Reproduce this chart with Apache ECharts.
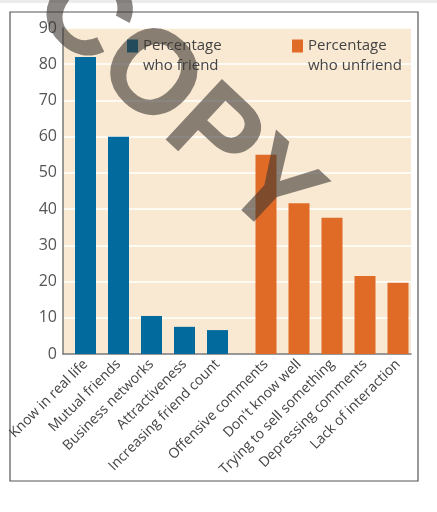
<!DOCTYPE html>
<html>
<head>
<meta charset="utf-8">
<script src="https://cdn.jsdelivr.net/npm/echarts@6/dist/echarts.min.js"></script>
<style>
  html, body { margin: 0; padding: 0; background: #fff; }
  #chart { width: 437px; height: 512px; }
</style>
</head>
<body>
<div id="chart"></div>
<script>
const friendReasons = ['Know in real life', 'Mutual friends', 'Business networks', 'Attractiveness', 'Increasing friend count'];
const friendValues = [82, 60, 10.5, 7.5, 6.6];
const unfriendReasons = ['Offensive comments', "Don't know well", 'Trying to sell something', 'Depressing comments', 'Lack of interaction'];
const unfriendValues = [55, 41.6, 37.6, 21.5, 19.7];
const yTicks = [0, 10, 20, 30, 40, 50, 60, 70, 80, 90];

const BLUE = '#026a9c', ORANGE = '#e06b27', BEIGE = '#f9e9d3';
const FONT = '"Open Sans", sans-serif';

let myChart;
document.addEventListener('DOMContentLoaded', () => {
    myChart = echarts.init(document.getElementById('chart'));
    const top = 28, bottom = 158;
    const legendText = { fontSize: 15, fontFamily: FONT, color: '#444', lineHeight: 20 };
    // leading blank line keeps the square level with the first line of text
    const twoLines = n => '\n' + n.replace(' who', '\nwho');
    myChart.setOption({
        animation: false,
        grid: [
            { left: 63, right: 26, top, bottom, show: true, backgroundColor: BEIGE, borderWidth: 0 },
            { left: 69, width: 165, top, bottom },
            { left: 249.5, width: 165, top, bottom }
        ],
        legend: [
            { left: 127, top: 16, padding: 0, itemWidth: 11, itemHeight: 13, icon: 'rect',
              data: ['Percentage who friend'], textStyle: legendText, formatter: twoLines },
            { left: 292, top: 16, padding: 0, itemWidth: 11, itemHeight: 13, icon: 'rect',
              data: ['Percentage who unfriend'], textStyle: legendText, formatter: twoLines }
        ],
        xAxis: [
            { type: 'value', gridIndex: 0, min: 0, max: 1,
              axisLine: { show: true, lineStyle: { color: '#777', width: 1.5 } },
              axisTick: { show: false }, axisLabel: { show: false }, splitLine: { show: false } },
            { type: 'category', gridIndex: 1, data: friendReasons,
              axisLine: { show: false }, axisTick: { show: false },
              axisLabel: { rotate: 45, margin: 8, fontSize: 14, fontFamily: FONT, color: '#444', interval: 0 } },
            { type: 'category', gridIndex: 2, data: unfriendReasons,
              axisLine: { show: false }, axisTick: { show: false },
              axisLabel: { rotate: 45, margin: 8, fontSize: 14, fontFamily: FONT, color: '#444', interval: 0 } }
        ],
        yAxis: [
            { type: 'value', gridIndex: 0, min: yTicks[0], max: yTicks[yTicks.length - 1], interval: 10,
              axisLine: { show: true, lineStyle: { color: '#777', width: 1.5 } },
              axisTick: { show: false },
              axisLabel: { fontSize: 16, fontFamily: FONT, color: '#555', margin: 6 },
              splitLine: { lineStyle: { color: '#fff', width: 1.5 } } },
            { type: 'value', gridIndex: 1, min: 0, max: 90, show: false },
            { type: 'value', gridIndex: 2, min: 0, max: 90, show: false }
        ],
        series: [
            { name: 'Percentage who friend', type: 'bar', xAxisIndex: 1, yAxisIndex: 1,
              data: friendValues, barWidth: 21, itemStyle: { color: BLUE } },
            { name: 'Percentage who unfriend', type: 'bar', xAxisIndex: 2, yAxisIndex: 2,
              data: unfriendValues, barWidth: 21, itemStyle: { color: ORANGE } }
        ],
        graphic: [
            { type: 'rect', shape: { x: 0, y: 0, width: 437, height: 3 }, style: { fill: '#ececec' }, z: -10 },
            { type: 'rect', shape: { x: 10, y: 12, width: 408, height: 469 },
              style: { fill: 'none', stroke: '#555', lineWidth: 1.2 }, z: -10 },
            // watermark
            { type: 'text', x: 175, y: 103, rotation: -43 * Math.PI / 180, z: 100,
              style: { text: 'COPY', font: 'bold 120px "Liberation Sans", sans-serif',
                       fill: 'rgba(60,55,50,0.6)', align: 'center', verticalAlign: 'middle' } }
        ]
    });
});
</script>
</body>
</html>
